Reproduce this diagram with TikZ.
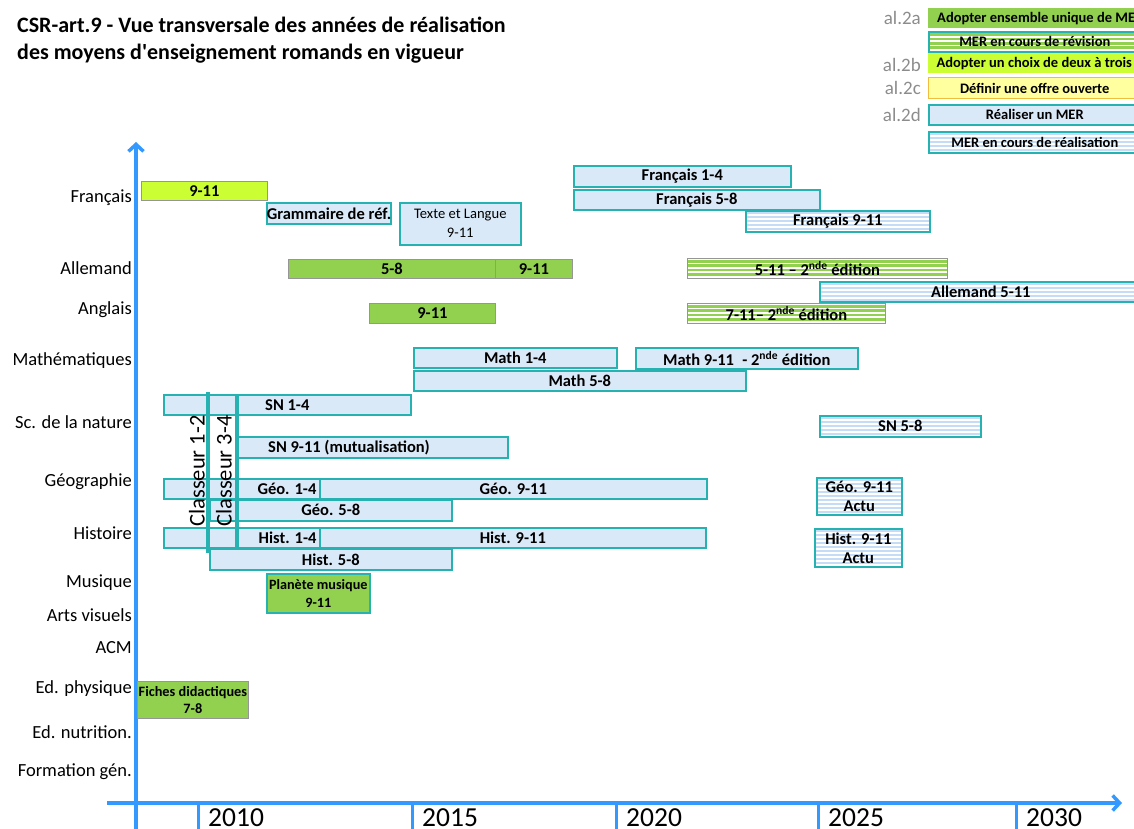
\documentclass[tikz,border=0pt]{standalone}
\usepackage{fontspec}
\setmainfont{Carlito}
\definecolor{merblue}{RGB}{218, 233, 248}
\definecolor{merteal}{RGB}{38, 178, 176}
\definecolor{mergreen}{RGB}{146, 208, 80}
\definecolor{meracid}{RGB}{204, 255, 51}
\definecolor{meryellow}{RGB}{255, 255, 160}
\definecolor{mergold}{RGB}{240, 190, 60}
\definecolor{mergray}{RGB}{150, 150, 150}
\definecolor{stripeblue}{RGB}{196, 220, 246}
\definecolor{axisblue}{RGB}{51, 153, 255}
\definecolor{algray}{RGB}{140, 140, 140}
\usetikzlibrary{arrows.meta}
\newcommand\barfont{\bfseries\fontsize{16.5}{19}\selectfont}
\newcommand\legfont{\bfseries\fontsize{14.5}{16}\selectfont}
\tikzset{
    every node/.style={inner sep=0pt},
    titletext/.style={anchor=base west, font=\bfseries\fontsize{22}{25}\selectfont},
    subjtext/.style={anchor=east, font=\fontsize{18.5}{22}\selectfont},
    altext/.style={anchor=east, text=algray, font=\fontsize{19}{22}\selectfont},
    yeartext/.style={anchor=base west, font=\fontsize{27.5}{30}\selectfont},
    classeur/.style={rotate=90, font=\fontsize{22.5}{24}\selectfont},
    bar/.style 2 args={minimum width=#1pt, minimum height=#2pt, anchor=north west,
        align=center, font=\barfont},
    bluestripes/.style={path picture={
        \foreach \k in {1,5,...,45}
            \fill[stripeblue] ([yshift=-\k pt]path picture bounding box.north west)
                rectangle ([yshift=-\k pt-2pt]path picture bounding box.north east);
    }},
    greenstripes/.style={path picture={
        \foreach \k in {1.5,5.9,...,45}
            \fill[mergreen] ([yshift=-\k pt]path picture bounding box.north west)
                rectangle ([yshift=-\k pt-2.6pt]path picture bounding box.north east);
    }},
    mer/.style={fill=merblue, draw=merteal, line width=1.6pt},
    merwork/.style={fill=white, draw=merteal, line width=1.6pt, bluestripes},
    adopt/.style={fill=mergreen, draw=mergray, line width=0.8pt},
    adoptrev/.style={fill=white, draw=mergray, line width=0.8pt, greenstripes},
    choix/.style={fill=meracid, draw=mergray, line width=0.8pt},
    axis/.style={draw=axisblue, line width=3.5pt},
}

\begin{document}
\begin{tikzpicture}[x=1pt, y=-1pt]
    \useasboundingbox (0,0) rectangle (1134,829);
    % title
    \node[titletext] (title1) at (17,33)
        {CSR-art.9 - Vue transversale des années de réalisation};
    \node[titletext] (title2) at (17,60)
        {des moyens d\textquotesingle enseignement romands en vigueur};

    % legend
    \node[altext] (al2a) at (921,18) {al.2a};
    \node[altext] (al2b) at (921,65) {al.2b};
    \node[altext] (al2c) at (921,88) {al.2c};
    \node[altext] (al2d) at (921,115) {al.2d};
    \node[bar={222}{20}, fill=mergreen] (leg1) at (928,8) {};
    \node[anchor=west, font=\legfont] (leg1t)
        at ([xshift=9pt]leg1.west) {Adopter ensemble unique de MER};
    \node[bar={212}{20}, fill=white, draw=merteal, line width=1.6pt, greenstripes,
        font=\legfont] (leg2) at (928,31) {MER en cours de révision};
    \node[bar={212}{20}, fill=meracid, font=\legfont]
        (leg3) at (928,53) {Adopter un choix de deux à trois};
    \node[bar={212}{21}, fill=meryellow, draw=mergold, line width=1.4pt,
        font=\legfont] (leg4) at (928,77) {Définir une offre ouverte};
    \node[bar={212}{20}, mer, font=\legfont] (leg5)
        at (928,104) {Réaliser un MER};
    \node[bar={212}{21}, merwork, font=\legfont] (leg6)
        at (928,131) {MER en cours de réalisation};

    % axes
    \coordinate (yfoot) at (136,829);
    \coordinate (ytop) at (136,142);
    \coordinate (xfoot) at (107,803);
    \coordinate (xtip) at (1122,803);
    \draw[axis, -{Straight Barb[length=7pt, width=15pt]}] (yfoot) -- (ytop);
    \draw[axis, -{Straight Barb[length=7pt, width=15pt]}] (xfoot) -- (xtip);
    \foreach \yr/\xx in {2010/198, 2015/412, 2020/616, 2025/818, 2030/1016}{
        \coordinate (t\yr) at (\xx,803);
        \draw[axis, line width=3pt] (t\yr) -- ++(0,26);
        \node[yeartext] (y\yr) at (\xx+10,826) {\yr};
    }

    % subjects
    \foreach \subj/\yy [count=\i] in {Français/198, Allemand/268, Anglais/310,
            Mathématiques/361, Sc. de la nature/422, Géographie/482,
            Histoire/533, Musique/583, Arts visuels/615, ACM/648,
            Ed. physique/689, Ed. nutrition./732, Formation gén./772}
        \node[subjtext] (subj\i) at (132,\yy) {\subj};

    % Francais
    \node[bar={126}{19}, choix] (fr911) at (141,181) {9-11};
    \node[bar={122}{21}, mer] (frgram) at (266,202) {Grammaire de réf.};
    \node[bar={121}{42}, mer, font=\fontsize{14.6}{19}\selectfont] (frtexte)
        at (399,202) {Texte et Langue\\9-11};
    \node[bar={217}{21}, mer] (fr14) at (573,165) {Français 1-4};
    \node[bar={246}{20}, mer] (fr58) at (573,189) {Français 5-8};
    \node[bar={184}{21}, merwork] (fr911b) at (745,210) {Français 9-11};

    % Allemand, Anglais
    \node[bar={207}{19}, adopt] (al58) at (288,259) {5-8};
    \node[bar={77}{19}, adopt] (al911) at (495,259) {9-11};
    \node[bar={260}{20}, adoptrev] (al511e) at (687,258)
        {5-11 -- 2\textsuperscript{nde} édition};
    \node[bar={322}{20}, merwork] (al511) at (819,281) {Allemand 5-11};
    \node[bar={126}{20}, adopt] (an911) at (369,303) {9-11};
    \node[bar={198}{20}, adoptrev] (an711e) at (687,303)
        {7-11-- 2\textsuperscript{nde} édition};

    % Mathematiques
    \node[bar={203}{20}, mer] (ma14) at (413,347) {Math 1-4};
    \node[bar={222}{21}, mer] (ma911) at (635,347)
        {Math 9-11\enspace- 2\textsuperscript{nde} édition};
    \node[bar={332}{20}, mer] (ma58) at (413,370) {Math 5-8};

    % Sc. de la nature
    \node[bar={247}{20}, mer] (sn14) at (163,394) {SN 1-4};
    \node[bar={270}{21}, mer] (sn911) at (237,436) {};
    \node[anchor=west, font=\barfont] (sn911t) at ([xshift=31pt]sn911.west)
        {SN 9-11 (mutualisation)};
    \node[bar={161}{21}, merwork] (sn58) at (819,415) {SN 5-8};

    % Geographie, Histoire
    \node[bar={156}{20}, mer] (geo14) at (163,478) {};
    \node[bar={387}{20}, mer] (geo911) at (319,478) {Géo. 9-11};
    \node[bar={242}{21}, mer] (geo58) at (209,499) {Géo. 5-8};
    \node[bar={156}{20}, mer] (hi14) at (163,527) {};
    \node[bar={386}{20}, mer] (hi911) at (319,527) {Hist. 9-11};
    \node[bar={242}{21}, mer] (hi58) at (209,548) {Hist. 5-8};
    \node[anchor=east, font=\barfont] (geo14t) at ([xshift=-4pt]geo14.east) {Géo. 1-4};
    \node[anchor=east, font=\barfont] (hi14t) at ([xshift=-4pt]hi14.east) {Hist. 1-4};
    \node[bar={85}{37}, merwork] (geoactu) at (816,477) {Géo. 9-11\\Actu};
    \node[bar={87}{38}, merwork] (hiactu) at (814,528) {Hist. 9-11\\Actu};

    % Classeurs
    \draw[draw=merteal, line width=3.5pt] (208,392) coordinate (c12top)
        -- (208,553) coordinate (c12foot);
    \draw[draw=merteal, line width=3.5pt] (237,394) coordinate (c34top)
        -- (237,547) coordinate (c34foot);
    \node[classeur] (c12) at (197,471) {Classeur 1-2};
    \node[classeur] (c34) at (224,471) {Classeur 3-4};

    % Musique, Ed. physique
    \node[bar={103}{39}, fill=mergreen, draw=merteal, line width=1.6pt,
        font=\bfseries\fontsize{14.2}{18}\selectfont] (musique) at (266,573)
        {Planète musique\\9-11};
    \node[bar={111}{37}, adopt, font=\bfseries\fontsize{14.3}{16.5}\selectfont]
        (fiches) at (137,681) {Fiches didactiques\\7-8};
\end{tikzpicture}
\end{document}
